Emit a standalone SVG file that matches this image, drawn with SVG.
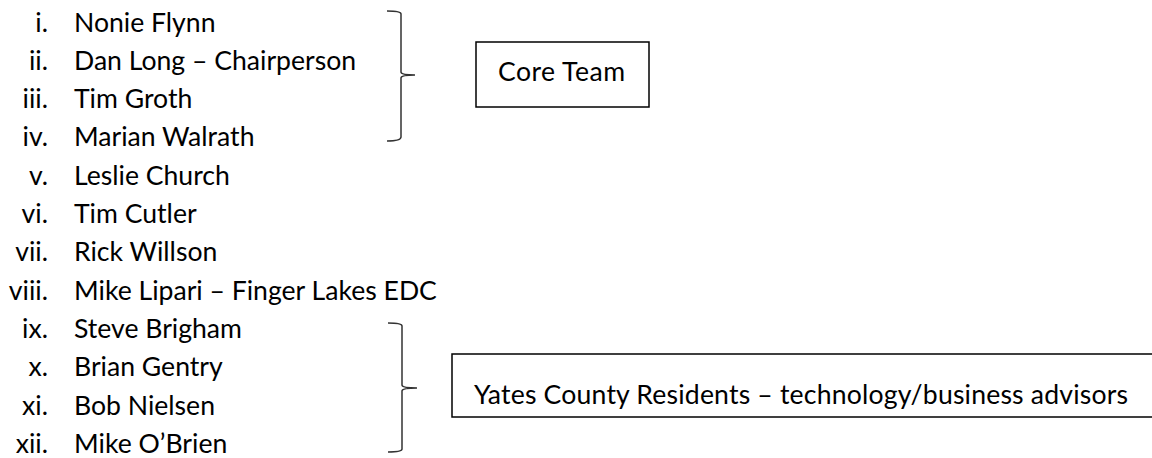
<svg xmlns="http://www.w3.org/2000/svg" width="1152" height="458" viewBox="0 0 1152 458">
<style>
text{font-family:Lato,"Open Sans",sans-serif;font-size:26.6px;fill:#000}
.n{text-anchor:end}
.brace{fill:none;stroke:#333;stroke-width:1.5}
.box{fill:#fff;stroke:#000;stroke-width:1.5}
</style>
<rect width="1152" height="458" fill="#fff"/>
<g id="list">
<text class="n" x="48" y="31.5">i.</text><text x="74" y="31.5">Nonie Flynn</text>
<text class="n" x="48" y="69.8">ii.</text><text x="74" y="69.8">Dan Long – Chairperson</text>
<text class="n" x="48" y="108.1">iii.</text><text x="74" y="108.1">Tim Groth</text>
<text class="n" x="48" y="146.4">iv.</text><text x="74" y="146.4">Marian Walrath</text>
<text class="n" x="48" y="184.7">v.</text><text x="74" y="184.7">Leslie Church</text>
<text class="n" x="48" y="223">vi.</text><text x="74" y="223">Tim Cutler</text>
<text class="n" x="48" y="261.3">vii.</text><text x="74" y="261.3">Rick Willson</text>
<text class="n" x="48" y="299.6">viii.</text><text x="74" y="299.6">Mike Lipari – Finger Lakes EDC</text>
<text class="n" x="48" y="337.9">ix.</text><text x="74" y="337.9">Steve Brigham</text>
<text class="n" x="48" y="376.2">x.</text><text x="74" y="376.2">Brian Gentry</text>
<text class="n" x="48" y="414.5">xi.</text><text x="74" y="414.5">Bob Nielsen</text>
<text class="n" x="48" y="452.8">xii.</text><text x="74" y="452.8">Mike O’Brien</text>
</g>
<g id="connectors">
<path class="brace" d="M387 11 Q401 11 401 14 L401 72 Q401 75 415 75 Q401 75 401 78 L401 137 Q401 141 387 141"/>
<path class="brace" d="M388 323 Q402 323 402 326 L402 385 Q402 388 417 388 Q402 388 402 391 L402 449 Q402 452 388 452"/>
</g>
<g id="core-team">
<rect class="box" x="476" y="42" width="173" height="65"/>
<text x="498" y="81" textLength="127" lengthAdjust="spacing">Core Team</text>
</g>
<g id="yates-residents">
<rect class="box" x="452" y="354" width="710" height="63"/>
<text x="474" y="404" textLength="654" lengthAdjust="spacing">Yates County Residents – technology/business advisors</text>
</g>
</svg>
